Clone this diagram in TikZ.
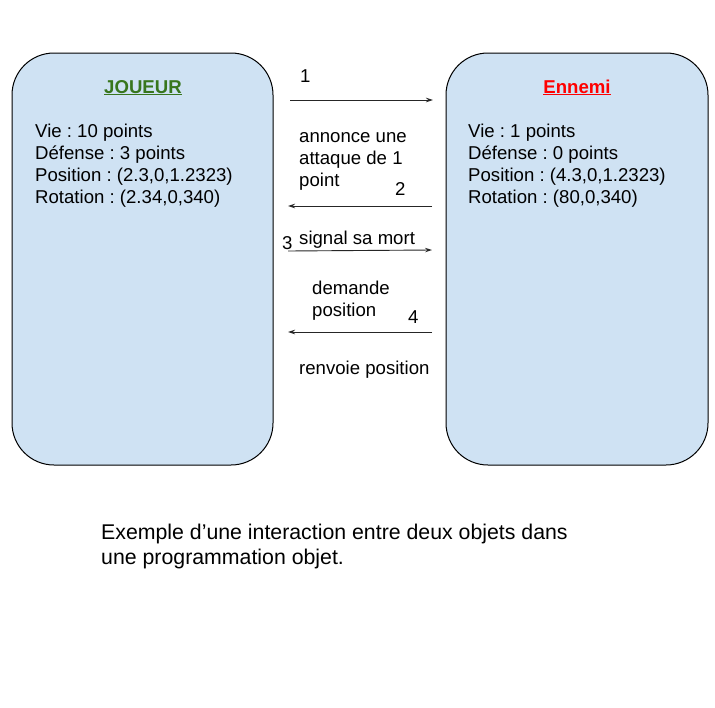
\documentclass[tikz,border=0pt]{standalone}
\usepackage{fontspec}
\setmainfont{Liberation Sans}
\usetikzlibrary{arrows.meta}
\definecolor{boxfill}{HTML}{CFE2F3}
\definecolor{jgreen}{HTML}{38761D}
\definecolor{ered}{HTML}{FF0000}
\frenchspacing
\begin{document}
\begin{tikzpicture}[x=1pt,y=-1pt,
  objbox/.style={draw=black,line width=1pt,fill=boxfill,rounded corners=42pt},
  txt/.style={inner sep=0pt,anchor=base west,font=\fontsize{18.6}{22}\selectfont},
  ttl/.style={inner sep=0pt,anchor=base,font=\fontsize{18.6}{22}\selectfont\bfseries},
  captxt/.style={inner sep=0pt,anchor=base west,font=\fontsize{21.3}{25}\selectfont},
  msg/.style={line width=0.9pt,draw=black!85,-{Stealth[length=7pt,width=4.5pt]}}]
\useasboundingbox (0,0) rectangle (715,707);
\fill[white] (0,0) rectangle (715,707);
% boxes
\draw[objbox] (12,53) rectangle (273,465);
\draw[objbox] (446,53) rectangle (708,465);
% titles
\node[ttl,text=jgreen] (tj) at (143,93) {\underline{JOUEUR}};
\node[ttl,text=ered] (te) at (577,93) {\underline{Ennemi}};
% left box attributes
\node[txt] (j1) at (35,137) {Vie : 10 points};
\node[txt] (j2) at (35,159) {Défense : 3 points};
\node[txt] (j3) at (35,181) {Position : (2.3,0,1.2323)};
\node[txt] (j4) at (35,203) {Rotation : (2.34,0,340)};
% right box attributes
\node[txt] (e1) at (468,137) {Vie : 1 points};
\node[txt] (e2) at (468,159) {Défense : 0 points};
\node[txt] (e3) at (468,181) {Position : (4.3,0,1.2323)};
\node[txt] (e4) at (468,203) {Rotation : (80,0,340)};
% arrow endpoints
\coordinate (a1s) at (290,100); \coordinate (a1e) at (433,100);
\coordinate (a2s) at (432,206); \coordinate (a2e) at (288,206);
\coordinate (a3s) at (288,251); \coordinate (a3e) at (432,250);
\coordinate (a4s) at (432,332); \coordinate (a4e) at (288,332);
\draw[msg] (a1s) -- (a1e);
\draw[msg] (a2s) -- (a2e);
\draw[msg] (a3s) -- (a3e);
\draw[msg] (a4s) -- (a4e);
% message labels
\node[txt] (n1) at (300,82) {1};
\node[txt] (m1a) at (299,142) {annonce une};
\node[txt] (m1b) at (299,164) {attaque de 1};
\node[txt] (m1c) at (299,186) {point};
\node[txt] (n2) at (395,195) {2};
\node[txt] (n3) at (282,249) {3};
\node[txt] (m3) at (299,244) {signal sa mort};
\node[txt] (m4a) at (312,294) {demande};
\node[txt] (m4b) at (312,316) {position};
\node[txt] (n4) at (408,323) {4};
\node[txt] (m5) at (299,374) {renvoie position};
% caption
\node[captxt] (c1) at (101,539) {Exemple d’une interaction entre deux objets dans};
\node[captxt] (c2) at (101,564) {une programmation objet.};
\end{tikzpicture}
\end{document}
